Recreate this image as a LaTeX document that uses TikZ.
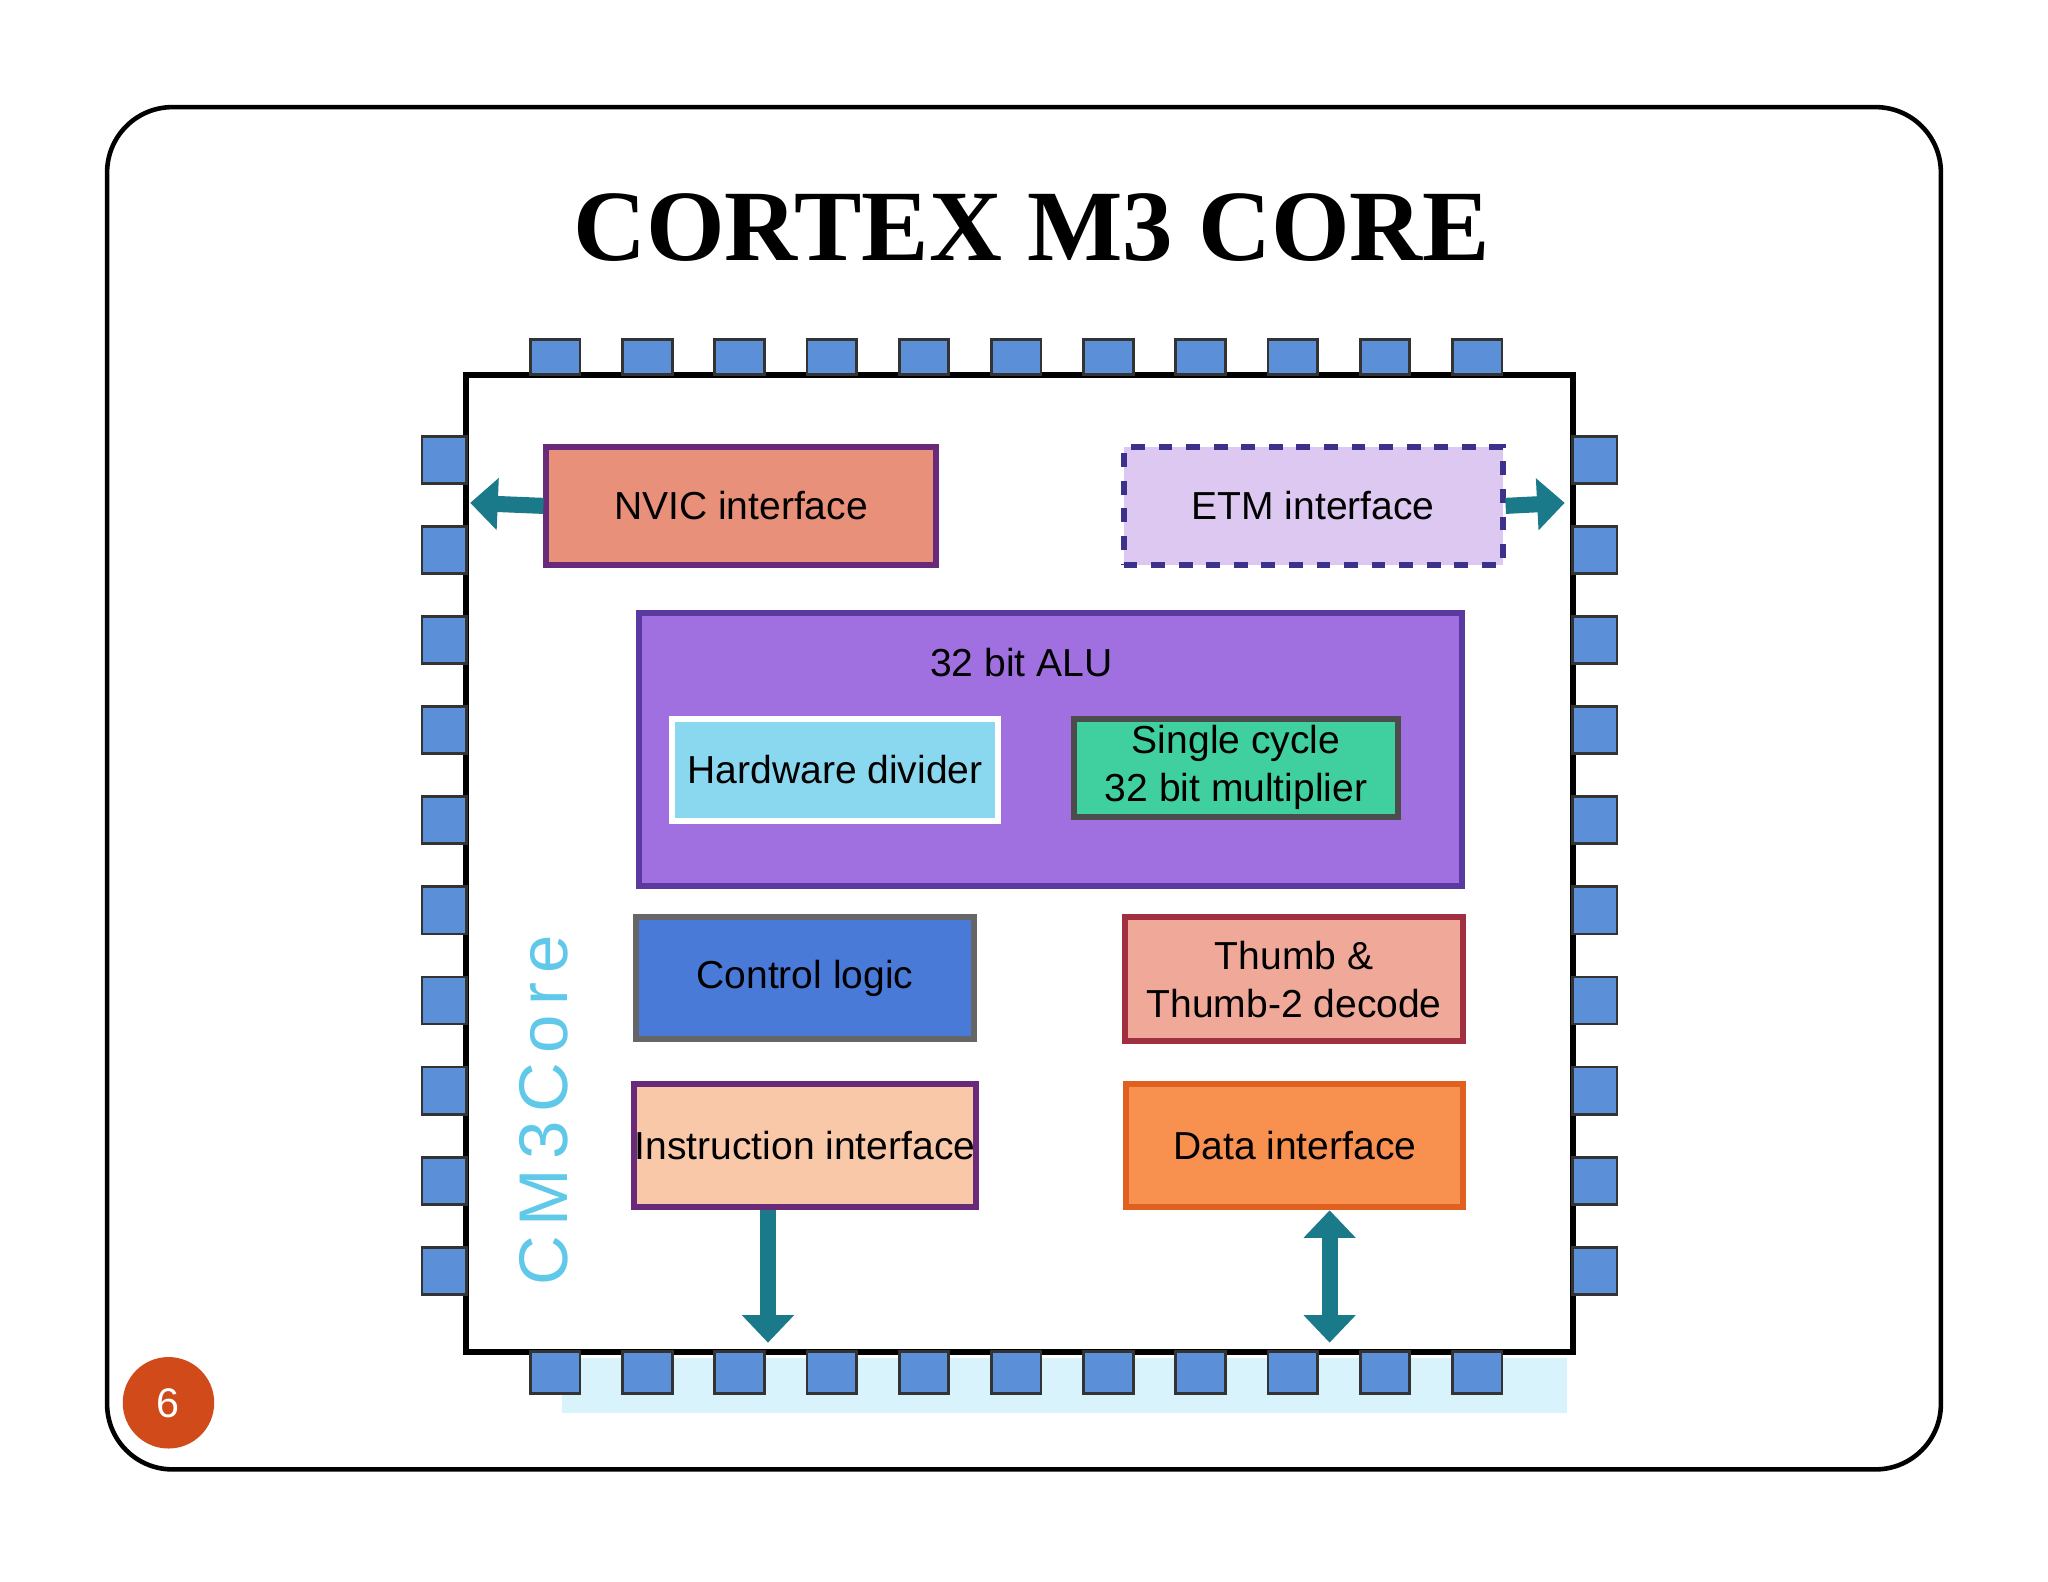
\documentclass[tikz,border=0pt]{standalone}
\usepackage{fontspec}
\setsansfont{Liberation Sans}
\setmainfont{Liberation Serif}
\usetikzlibrary{arrows.meta}
\definecolor{pinblue}{HTML}{5B8FD8}
\definecolor{teal}{HTML}{1A7A8A}
\definecolor{pagered}{HTML}{D04A1A}
\tikzset{
 pin/.style={draw=black!80,fill=pinblue,line width=0.6pt},
 blk/.style={line width=1.3pt,font=\sffamily\fontsize{8.5}{10.5}\selectfont,align=center,anchor=north west,inner sep=0pt},
 arr/.style={draw=teal,line width=3.5pt,-{Triangle[length=6pt,width=11pt]}},
}
\begin{document}
\begin{tikzpicture}[x=0.01cm,y=-0.01cm]
\useasboundingbox (0,0) rectangle (1568,1211);
\fill[white] (0,0) rectangle (1568,1211);
\draw[line width=1pt,rounded corners=0.5cm] (82,82) rectangle (1486,1125);
\node[font=\bfseries\fontsize{22}{26}\selectfont] (title) at (790,174) {CORTEX M3 CORE};
\fill[cyan!15] (430,1040) rectangle (1200,1082);
\draw[line width=1.3pt,fill=white] (357,287) rectangle (1204,1035);
\foreach \i in {0,...,10}{
 \draw[pin] ({406+70.6*\i},260) rectangle ++(38,27);
 \draw[pin] ({406+70.6*\i},1035) rectangle ++(38,32);
}
\foreach \j in {0,...,9}{
 \draw[pin] (323,{334+69*\j}) rectangle ++(34,36);
 \draw[pin] (1204,{334+69*\j}) rectangle ++(34,36);
}
\node[blk,draw={rgb,255:red,106;green,42;blue,122},fill={rgb,255:red,232;green,144;blue,122},minimum width=2.98cm,minimum height=0.9cm] (nvic) at (416,340) {NVIC interface};
\node[blk,dashed,draw={rgb,255:red,60;green,50;blue,140},fill={rgb,255:red,220;green,200;blue,240},minimum width=2.9cm,minimum height=0.9cm] (etm) at (858,340) {ETM interface};
\coordinate (nl) at (360,385);
\coordinate (er) at (1198,385);
\draw[arr] (nvic.west) -- (nl);
\draw[arr] (etm.east) -- (er);
\node[blk,draw={rgb,255:red,90;green,58;blue,160},fill={rgb,255:red,160;green,112;blue,224},minimum width=6.3cm,minimum height=2.09cm] (alu) at (487,467) {};
\node[font=\sffamily\fontsize{8.5}{10.5}\selectfont] (alut) at (782,507) {32 bit ALU};
\node[blk,draw=white,fill={rgb,255:red,138;green,216;blue,240},minimum width=2.5cm,minimum height=0.78cm] (hw) at (512,548) {Hardware divider};
\node[blk,draw=black!70,fill={rgb,255:red,64;green,208;blue,160},minimum width=2.48cm,minimum height=0.75cm] (mul) at (820,548) {Single cycle\\32 bit multiplier};
\node[blk,draw=black!60,fill={rgb,255:red,74;green,122;blue,216},minimum width=2.58cm,minimum height=0.93cm] (ctl) at (485,700) {Control logic};
\node[blk,draw={rgb,255:red,160;green,48;blue,64},fill={rgb,255:red,240;green,168;blue,152},minimum width=2.59cm,minimum height=0.95cm] (thumb) at (859,700) {Thumb \&\\Thumb-2 decode};
\node[blk,draw={rgb,255:red,106;green,42;blue,122},fill={rgb,255:red,248;green,200;blue,168},minimum width=2.62cm,minimum height=0.94cm] (ins) at (483,828) {Instruction interface};
\node[blk,draw={rgb,255:red,224;green,96;blue,32},fill={rgb,255:red,248;green,144;blue,80},minimum width=2.58cm,minimum height=0.94cm] (data) at (860,828) {Data interface};
\coordinate (insb) at (588,1028);
\coordinate (datab) at (1018,1028);
\draw[arr] (ins.south -| insb) -- (insb);
\draw[arr,{Triangle[length=6pt,width=11pt]}-{Triangle[length=6pt,width=11pt]}] (datab |- data.south) -- (datab);
\node[rotate=90,text={rgb,255:red,96;green,200;blue,232},font=\sffamily\fontsize{15}{17}\selectfont] (cm3) at (416,850) {C\kern2pt M\kern2pt 3\kern2pt C\kern2pt o\kern2pt r\kern2pt e};
\node[circle,fill=pagered,minimum size=0.7cm,text=white,font=\sffamily\fontsize{9}{11}\selectfont] (pg) at (129,1074) {6};
\end{tikzpicture}
\end{document}
